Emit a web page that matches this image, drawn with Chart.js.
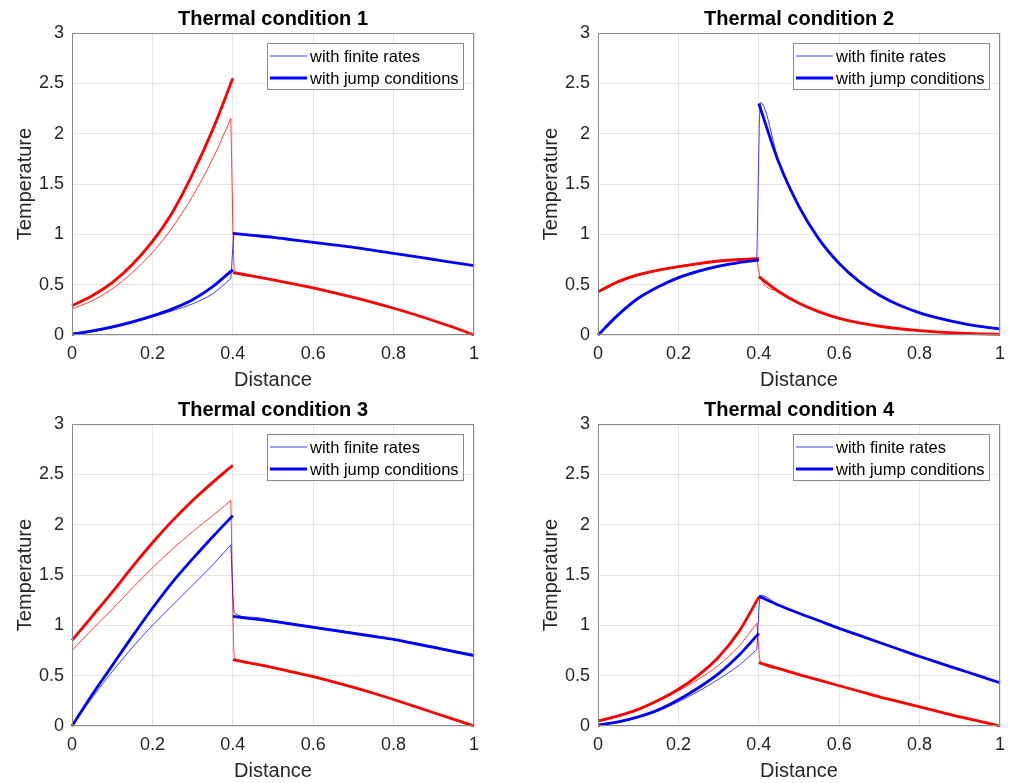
<!DOCTYPE html>
<html>
<head>
<meta charset="utf-8">
<script src="https://cdn.jsdelivr.net/npm/chart.js@4.4.1/dist/chart.umd.min.js"></script>
<style>
html, body { margin: 0; padding: 0; background: #fff; overflow: hidden; }
#wrap { position: relative; width: 1009px; height: 783px; }
canvas { position: absolute; }
</style>
</head>
<body>
<div id="wrap">
	<canvas id="c1" width="483" height="391" style="left:0px;top:0px"></canvas>
	<canvas id="c2" width="483" height="391" style="left:526px;top:0px"></canvas>
	<canvas id="c3" width="483" height="391" style="left:0px;top:391px"></canvas>
	<canvas id="c4" width="483" height="391" style="left:526px;top:391px"></canvas>
</div>
<script>
var FONT = '"Liberation Sans", Arial, Helvetica, sans-serif';

// titles and axis text
var titles = ['Thermal condition 1', 'Thermal condition 2', 'Thermal condition 3', 'Thermal condition 4'];
var xLabel = 'Distance';
var yLabel = 'Temperature';
var legendFinite = 'with finite rates';
var legendJump = 'with jump conditions';

// x positions
var xLeft = [0, 0.05, 0.1, 0.15, 0.2, 0.25, 0.3, 0.35, 0.4];
var xRight = [0.4, 0.45, 0.5, 0.55, 0.6, 0.65, 0.7, 0.75, 0.8, 0.85, 0.9, 0.95, 1];
var xFinite = [0, 0.05, 0.1, 0.15, 0.2, 0.25, 0.3, 0.35, 0.395,
	0.404, 0.45, 0.5, 0.55, 0.6, 0.65, 0.7, 0.75, 0.8, 0.85, 0.9, 0.95, 1];

// condition 1
var jumpRedLeft1 = [0.29, 0.39, 0.52, 0.70, 0.93, 1.22, 1.60, 2.04, 2.55];
var jumpRedRight1 = [0.62, 0.585, 0.548, 0.509, 0.467, 0.422, 0.374, 0.322, 0.266, 0.206, 0.142, 0.074, 0];
var jumpBlueLeft1 = [0.01, 0.04, 0.08, 0.13, 0.19, 0.26, 0.35, 0.48, 0.65];
var jumpBlueRight1 = [1.01, 0.99, 0.97, 0.945, 0.92, 0.895, 0.87, 0.84, 0.81, 0.78, 0.75, 0.72, 0.69];
var finiteRed1 = [0.26, 0.34, 0.46, 0.62, 0.82, 1.07, 1.38, 1.75, 2.15,
	0.64, 0.585, 0.548, 0.509, 0.467, 0.422, 0.374, 0.322, 0.266, 0.206, 0.142, 0.074, 0];
var finiteBlue1 = [0, 0.03, 0.07, 0.12, 0.18, 0.24, 0.31, 0.41, 0.56,
	1.0, 0.99, 0.97, 0.945, 0.92, 0.895, 0.87, 0.84, 0.81, 0.78, 0.75, 0.72, 0.69];

// condition 2
var jumpRedLeft2 = [0.43, 0.53, 0.60, 0.645, 0.68, 0.71, 0.735, 0.75, 0.76];
var jumpRedRight2 = [0.58, 0.43, 0.315, 0.23, 0.166, 0.12, 0.087, 0.062, 0.043, 0.029, 0.019, 0.012, 0.007];
var jumpBlueLeft2 = [0, 0.20, 0.365, 0.48, 0.57, 0.635, 0.685, 0.72, 0.745];
var jumpBlueRight2 = [2.30, 1.71, 1.275, 0.95, 0.71, 0.53, 0.395, 0.295, 0.22, 0.165, 0.12, 0.085, 0.06];
var finiteRed2 = [0.42, 0.52, 0.59, 0.64, 0.675, 0.705, 0.73, 0.745, 0.76,
	0.57, 0.43, 0.315, 0.23, 0.166, 0.12, 0.087, 0.062, 0.043, 0.029, 0.019, 0.012, 0.007];
var finiteBlue2 = [0, 0.19, 0.355, 0.47, 0.56, 0.625, 0.675, 0.715, 0.755,
	2.31, 1.72, 1.285, 0.96, 0.72, 0.54, 0.405, 0.30, 0.225, 0.168, 0.122, 0.087, 0.062];

// condition 3
var jumpRedLeft3 = [0.85, 1.09, 1.33, 1.58, 1.82, 2.04, 2.24, 2.42, 2.59];
var jumpRedRight3 = [0.66, 0.62, 0.58, 0.535, 0.49, 0.438, 0.383, 0.325, 0.263, 0.198, 0.132, 0.066, 0];
var jumpBlueLeft3 = [0, 0.31, 0.60, 0.89, 1.17, 1.43, 1.66, 1.88, 2.09];
var jumpBlueRight3 = [1.09, 1.065, 1.04, 1.01, 0.98, 0.95, 0.92, 0.89, 0.86, 0.82, 0.78, 0.74, 0.70];
var finiteRed3 = [0.75, 0.96, 1.16, 1.37, 1.57, 1.76, 1.93, 2.09, 2.24,
	0.68, 0.62, 0.58, 0.535, 0.49, 0.438, 0.383, 0.325, 0.263, 0.198, 0.132, 0.066, 0];
var finiteBlue3 = [0, 0.28, 0.54, 0.78, 1.0, 1.2, 1.4, 1.6, 1.80,
	1.12, 1.08, 1.05, 1.02, 0.99, 0.96, 0.93, 0.90, 0.86, 0.83, 0.79, 0.75, 0.71];

// condition 4
var jumpRedLeft4 = [0.05, 0.10, 0.165, 0.255, 0.365, 0.505, 0.685, 0.935, 1.28];
var jumpRedRight4 = [0.63, 0.57, 0.51, 0.455, 0.40, 0.345, 0.29, 0.24, 0.19, 0.14, 0.09, 0.045, 0];
var jumpBlueLeft4 = [0.01, 0.04, 0.09, 0.16, 0.26, 0.38, 0.52, 0.70, 0.92];
var jumpBlueRight4 = [1.29, 1.20, 1.12, 1.045, 0.97, 0.90, 0.83, 0.76, 0.69, 0.625, 0.56, 0.495, 0.43];
var finiteRed4 = [0.05, 0.10, 0.165, 0.25, 0.35, 0.465, 0.605, 0.79, 1.02,
	0.64, 0.57, 0.51, 0.455, 0.40, 0.345, 0.29, 0.24, 0.19, 0.14, 0.09, 0.045, 0];
var finiteBlue4 = [0, 0.04, 0.09, 0.15, 0.24, 0.345, 0.465, 0.60, 0.76,
	1.30, 1.20, 1.12, 1.045, 0.97, 0.90, 0.83, 0.76, 0.69, 0.625, 0.56, 0.495, 0.43];

var RED = '#ff0000', BLUE = '#0000ff';
var RED_THIN = 'rgba(255,0,0,0.75)', BLUE_THIN = 'rgba(0,0,255,0.75)';

function pts(xs, ys){
	return xs.map(function(x, i){ return {x: x, y: ys[i]}; });
}

// left piece, gap, right piece
function jumpPts(yl, yr){
	return pts(xLeft, yl).concat([{x: 0.4, y: null}], pts(xRight, yr));
}

// finite rate curve in two pieces so the steep part stays straight
function finiteParts(ys){
	var p = pts(xFinite, ys);
	return [p.slice(0, 9), p.slice(8)];
}

function tickFmt(v){
	return String(Math.round(v * 10) / 10);
}

// matlab style box + legend in the upper right corner
var axesPlugin = {
	id: 'axesBox',
	afterDatasetsDraw: function(chart){
		var c = chart.ctx, ca = chart.chartArea;
		c.save();
		c.strokeStyle = '#8a8a8a';
		c.lineWidth = 1;
		c.strokeRect(Math.round(ca.left) + 0.5, Math.round(ca.top) + 0.5,
			Math.round(ca.right - ca.left) - 1, Math.round(ca.bottom - ca.top) - 1);

		var entries = chart.data.datasets.filter(function(d){ return d.legendEntry; })
			.sort(function(a, b){ return a.legendEntry - b.legendEntry; });
		c.font = '16.5px ' + FONT;
		var tw = 0;
		entries.forEach(function(e){ tw = Math.max(tw, c.measureText(e.label).width); });
		var w = Math.round(3 + 37 + 3 + tw + 4), h = 46;
		var x0 = Math.round(ca.right - 11 - w), y0 = Math.round(ca.top + 10);
		c.fillStyle = '#fff';
		c.fillRect(x0, y0, w, h);
		c.strokeStyle = '#8a8a8a';
		c.strokeRect(x0 + 0.5, y0 + 0.5, w, h);
		entries.forEach(function(e, i){
			var y = y0 + 13 + i * 22;
			c.strokeStyle = e.borderColor;
			c.lineWidth = e.borderWidth;
			c.beginPath();
			c.moveTo(x0 + 3, y);
			c.lineTo(x0 + 40, y);
			c.stroke();
			c.fillStyle = '#000';
			c.textBaseline = 'middle';
			c.textAlign = 'left';
			c.fillText(e.label, x0 + 43, y + 1);
		});
		c.restore();
	}
};

function makeChart(id, title, finiteRed, finiteBlue, jrL, jrR, jbL, jbR){
	var ctx = document.getElementById(id);
	var fb = finiteParts(finiteBlue), fr = finiteParts(finiteRed);
	return new Chart(ctx, {
		type: 'line',
		data: {
			datasets: [
				{label: legendJump, legendEntry: 2, data: jumpPts(jbL, jbR), borderColor: BLUE, borderWidth: 2.8},
				{label: '', data: jumpPts(jrL, jrR), borderColor: RED, borderWidth: 2.8},
				{label: legendFinite, legendEntry: 1, data: fb[0], borderColor: BLUE_THIN, borderWidth: 1},
				{label: '', data: fb[1], borderColor: BLUE_THIN, borderWidth: 1},
				{label: '', data: fr[0], borderColor: RED_THIN, borderWidth: 1},
				{label: '', data: fr[1], borderColor: RED_THIN, borderWidth: 1}
			]
		},
		options: {
			responsive: false,
			animation: false,
			devicePixelRatio: 1,
			layout: {padding: {left: 0, right: 9, top: 0, bottom: 0}},
			elements: {
				point: {radius: 0},
				line: {cubicInterpolationMode: 'monotone', fill: false, borderJoinStyle: 'round'}
			},
			datasets: {line: {clip: 4, spanGaps: false}},
			plugins: {
				legend: {display: false},
				tooltip: {enabled: false},
				title: {
					display: true,
					text: title,
					fullSize: false,
					color: '#000',
					font: {family: FONT, size: 20, weight: 'bold', lineHeight: 1.2},
					padding: {top: 7, bottom: 2}
				}
			},
			scales: {
				x: {
					type: 'linear', min: 0, max: 1,
					ticks: {stepSize: 0.2, color: '#262626', font: {family: FONT, size: 18}, padding: 8, maxRotation: 0, callback: tickFmt},
					grid: {color: '#e6e6e6', drawTicks: false},
					border: {display: false},
					title: {display: true, text: xLabel, color: '#262626', font: {family: FONT, size: 20, lineHeight: 1.1}, padding: {top: 0, bottom: 0}},
					afterFit: function(s){ s.height = 56; s.paddingLeft = 0; s.paddingRight = 0; }
				},
				y: {
					type: 'linear', min: 0, max: 3,
					ticks: {stepSize: 0.5, color: '#262626', font: {family: FONT, size: 18}, padding: 8, callback: tickFmt},
					grid: {color: '#e6e6e6', drawTicks: false},
					border: {display: false},
					title: {display: true, text: yLabel, color: '#262626', font: {family: FONT, size: 20, lineHeight: 1.2}, padding: {top: 13, bottom: 0}},
					afterFit: function(s){ s.width = 72; }
				}
			}
		},
		plugins: [axesPlugin]
	});
}

makeChart('c1', titles[0], finiteRed1, finiteBlue1, jumpRedLeft1, jumpRedRight1, jumpBlueLeft1, jumpBlueRight1);
makeChart('c2', titles[1], finiteRed2, finiteBlue2, jumpRedLeft2, jumpRedRight2, jumpBlueLeft2, jumpBlueRight2);
makeChart('c3', titles[2], finiteRed3, finiteBlue3, jumpRedLeft3, jumpRedRight3, jumpBlueLeft3, jumpBlueRight3);
makeChart('c4', titles[3], finiteRed4, finiteBlue4, jumpRedLeft4, jumpRedRight4, jumpBlueLeft4, jumpBlueRight4);
</script>
</body>
</html>
